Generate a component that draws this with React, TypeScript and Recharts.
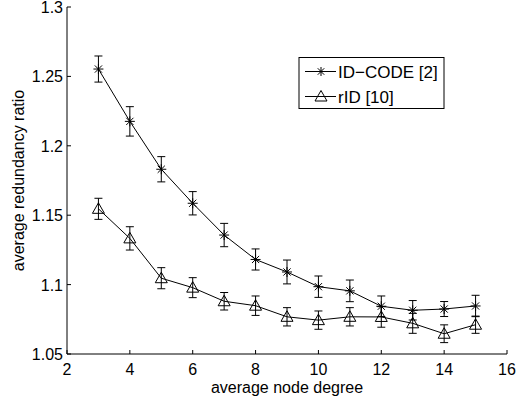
import React from 'react';
import { LineChart, Line, XAxis, YAxis, ErrorBar } from 'recharts';

const degrees = [3, 4, 5, 6, 7, 8, 9, 10, 11, 12, 13, 14, 15];
const idCode = [1.2553, 1.2176, 1.1831, 1.1586, 1.1357, 1.1181, 1.1091, 1.0985, 1.0955, 1.0844, 1.0815, 1.0824, 1.0846];
const idCodeErr = [0.0094, 0.0106, 0.0091, 0.0084, 0.0084, 0.0076, 0.0086, 0.0077, 0.0078, 0.0074, 0.007, 0.0054, 0.0077];
const rId = [1.1546, 1.1333, 1.1046, 1.0978, 1.088, 1.0848, 1.0768, 1.0744, 1.0768, 1.0767, 1.0721, 1.0646, 1.0711];
const rIdErr = [0.0076, 0.0084, 0.0076, 0.0072, 0.0063, 0.007, 0.0066, 0.0066, 0.0066, 0.0074, 0.0072, 0.0064, 0.0062];
const xTicks = [2, 4, 6, 8, 10, 12, 14, 16];
const yTicks = [1.05, 1.1, 1.15, 1.2, 1.25, 1.3];
const yTickLabels = ['1.05', '1.1', '1.15', '1.2', '1.25', '1.3'];
const seriesNames = ['ID\u2212CODE [2]', 'rID [10]'];

const data = degrees.map((d, i) => ({
  deg: d,
  id: idCode[i],
  idErr: idCodeErr[i],
  rid: rId[i],
  ridErr: rIdErr[i],
}));

const FONT = '"Liberation Sans", Arial, Helvetica, sans-serif';
const TICK_LEN = 4;

const Asterisk = ({ cx, cy, r = 5 }: { cx: number; cy: number; r?: number }) => {
  const d = r * 0.72;
  return (
    <g stroke="#000" strokeWidth={1} fill="none">
      <line x1={cx - r} y1={cy} x2={cx + r} y2={cy} />
      <line x1={cx} y1={cy - r} x2={cx} y2={cy + r} />
      <line x1={cx - d} y1={cy - d} x2={cx + d} y2={cy + d} />
      <line x1={cx - d} y1={cy + d} x2={cx + d} y2={cy - d} />
    </g>
  );
};

const Triangle = ({ cx, cy, s = 6 }: { cx: number; cy: number; s?: number }) => (
  <polygon
    points={`${cx},${cy - s} ${cx - s},${cy + s * 0.75} ${cx + s},${cy + s * 0.75}`}
    fill="none"
    stroke="#000"
    strokeWidth={1}
  />
);

const BottomTick = (props: any) => {
  const { x, y, payload } = props;
  return (
    <g>
      <line x1={x} y1={y} x2={x} y2={y - TICK_LEN} stroke="#000" />
      <text x={x} y={y + 21} textAnchor="middle" fontFamily={FONT} fontSize={16} fill="#000">
        {payload.value}
      </text>
    </g>
  );
};

const LeftTick = (props: any) => {
  const { x, y, payload, index } = props;
  const label = yTickLabels[yTicks.indexOf(payload.value)] ?? String(payload.value);
  return (
    <g>
      <line x1={x} y1={y} x2={x + TICK_LEN} y2={y} stroke="#000" />
      <text x={x - 4} y={y + 6} textAnchor="end" fontFamily={FONT} fontSize={16} fill="#000">
        {label}
      </text>
    </g>
  );
};

const TopTick = (props: any) => {
  const { x, y } = props;
  return <line x1={x} y1={y} x2={x} y2={y + TICK_LEN} stroke="#000" />;
};

const RightTick = (props: any) => {
  const { x, y } = props;
  return <line x1={x} y1={y} x2={x - TICK_LEN} y2={y} stroke="#000" />;
};

const XLabel = (props: any) => {
  const { viewBox } = props;
  const cx = viewBox.x + viewBox.width / 2;
  return (
    <text x={cx} y={viewBox.y + 39} textAnchor="middle" fontFamily={FONT} fontSize={16} fill="#000">
      average node degree
    </text>
  );
};

const YLabel = (props: any) => {
  const { viewBox } = props;
  const cy = viewBox.y + viewBox.height / 2;
  const bx = 24;
  return (
    <text
      x={bx}
      y={cy}
      transform={`rotate(-90, ${bx}, ${cy})`}
      textAnchor="middle"
      fontFamily={FONT}
      fontSize={16}
      fill="#000"
    >
      average redundancy ratio
    </text>
  );
};

const LegendBox = () => (
  <svg
    width={147}
    height={53}
    style={{ position: 'absolute', left: 298, top: 57, overflow: 'visible' }}
  >
    <rect x={1} y={0.5} width={145} height={51} fill="#fff" stroke="#000" strokeWidth={1} />
    <line x1={7} y1={14.5} x2={38} y2={14.5} stroke="#000" />
    <Asterisk cx={23} cy={14.5} r={4.5} />
    <text x={40} y={20.5} fontFamily={FONT} fontSize={17} fill="#000">
      {seriesNames[0]}
    </text>
    <line x1={7} y1={39.5} x2={38} y2={39.5} stroke="#000" />
    <Triangle cx={23} cy={39.5} s={6} />
    <text x={40} y={45.5} fontFamily={FONT} fontSize={17} fill="#000">
      {seriesNames[1]}
    </text>
  </svg>
);

export default function App() {
  return (
    <div style={{ position: 'absolute', left: 0, top: 0, width: 518, height: 403, background: '#fff' }}>
      <LineChart
        width={518}
        height={403}
        data={data}
        margin={{ top: 7, right: 11, bottom: 0, left: 0 }}
        style={{ fontFamily: FONT }}
      >
        <XAxis
          xAxisId="b"
          dataKey="deg"
          type="number"
          domain={[2, 16]}
          ticks={xTicks}
          allowDataOverflow
          height={49}
          tickSize={0}
          tickMargin={0}
          tickLine={false}
          axisLine={{ stroke: '#000', strokeWidth: 1 }}
          tick={<BottomTick />}
          interval={0}
          label={<XLabel />}
        />
        <XAxis
          xAxisId="t"
          orientation="top"
          dataKey="deg"
          type="number"
          domain={[2, 16]}
          ticks={xTicks}
          allowDataOverflow
          height={0}
          tickSize={0}
          tickMargin={0}
          tickLine={false}
          axisLine={{ stroke: '#000', strokeWidth: 1 }}
          tick={<TopTick />}
          interval={0}
        />
        <YAxis
          yAxisId="l"
          type="number"
          domain={[1.05, 1.3]}
          ticks={yTicks}
          allowDataOverflow
          width={67}
          tickSize={0}
          tickMargin={0}
          tickLine={false}
          axisLine={{ stroke: '#000', strokeWidth: 1 }}
          tick={<LeftTick />}
          interval={0}
          label={<YLabel />}
        />
        <YAxis
          yAxisId="r"
          orientation="right"
          type="number"
          domain={[1.05, 1.3]}
          ticks={yTicks}
          allowDataOverflow
          width={0}
          tickSize={0}
          tickMargin={0}
          tickLine={false}
          axisLine={{ stroke: '#000', strokeWidth: 1 }}
          tick={<RightTick />}
          interval={0}
        />
        <Line
          xAxisId="b"
          yAxisId="l"
          dataKey="id"
          stroke="#000"
          strokeWidth={1}
          isAnimationActive={false}
          dot={(p: any) => <g key={`a${p.index}`}><Asterisk cx={p.cx} cy={p.cy} r={5} /></g>}
          activeDot={false}
        >
          <ErrorBar dataKey="idErr" direction="y" width={4} stroke="#000" strokeWidth={1} isAnimationActive={false} />
        </Line>
        <Line
          xAxisId="b"
          yAxisId="l"
          dataKey="rid"
          stroke="#000"
          strokeWidth={1}
          isAnimationActive={false}
          dot={(p: any) => <g key={`t${p.index}`}><Triangle cx={p.cx} cy={p.cy} s={6} /></g>}
          activeDot={false}
        >
          <ErrorBar dataKey="ridErr" direction="y" width={4} stroke="#000" strokeWidth={1} isAnimationActive={false} />
        </Line>
      </LineChart>
      <LegendBox />
    </div>
  );
}
